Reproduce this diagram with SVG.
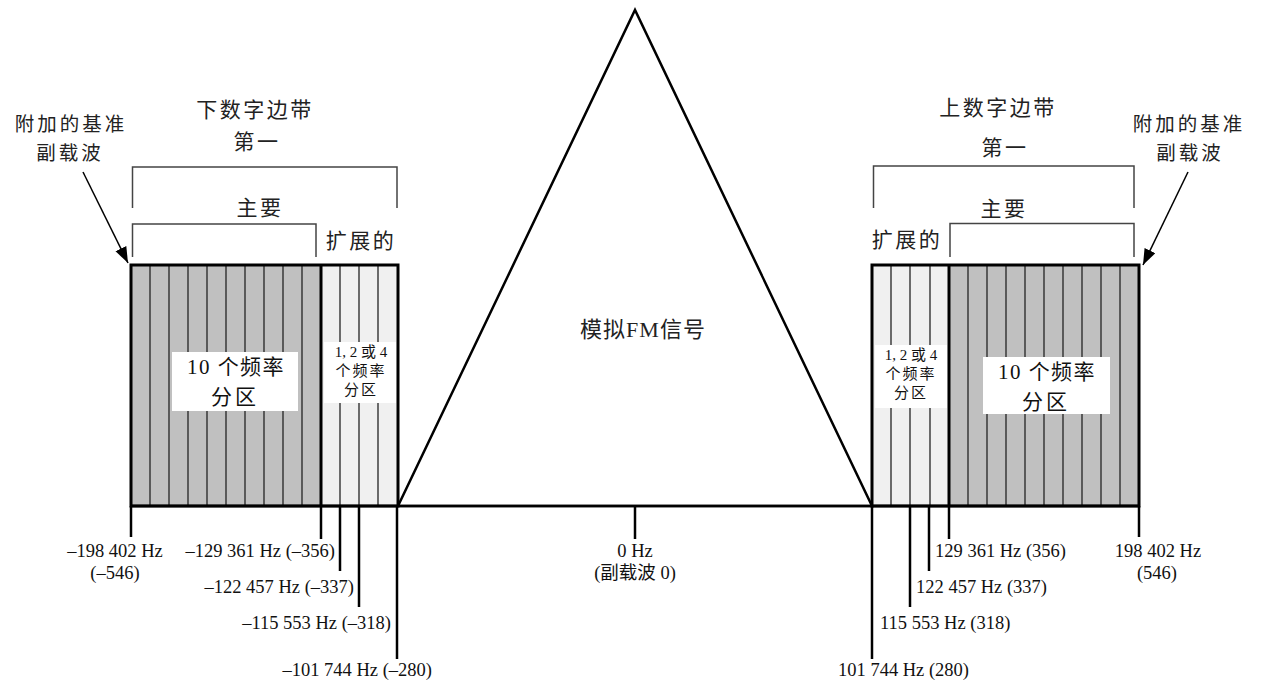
<svg xmlns="http://www.w3.org/2000/svg" width="1263" height="681" viewBox="0 0 1263 681">
<defs>
<style>
.t{font-family:"Liberation Serif","Noto Sans CJK SC",serif;fill:#111;font-size:18.5px}
.c{font-family:"Noto Sans CJK SC",sans-serif;fill:#222;font-size:21px;letter-spacing:2.5px}
.m{text-anchor:middle}
.e{text-anchor:end}
.dark{fill:#c0c0c0}
.light{fill:#f0f0f0}
.stripe{stroke:#222;stroke-width:1.3}
.box{fill:none;stroke:#000;stroke-width:3}
.br{fill:none;stroke:#444;stroke-width:1.5}
.tick{stroke:#000;stroke-width:2.5}
.lab{fill:#fff}
.arrow{stroke:#000;stroke-width:1.5;fill:none}
.ref{font-size:19.5px;letter-spacing:3px}
</style>
<marker id="ah" markerUnits="userSpaceOnUse" markerWidth="20" markerHeight="14" refX="16" refY="6" orient="auto"><path d="M0,0 L16,6 L0,12 Z" fill="#000"/></marker>
</defs>
<rect width="1263" height="681" fill="#fff"/>

<g id="fm-signal">
<polygon points="398,506 635,10 872,506" fill="#fff" stroke="#000" stroke-width="2.5"/>
<text class="c m" x="643" y="337" style="font-size:22px;letter-spacing:1px;font-family:'Liberation Serif','Noto Sans CJK SC',serif">模拟FM信号</text>
</g>

<g id="lower-sideband">
<rect class="dark" x="131" y="265" width="190" height="241"/>
<rect class="light" x="321" y="265" width="77" height="241"/>
<g class="stripe">
<line x1="150" y1="265" x2="150" y2="506"/><line x1="169" y1="265" x2="169" y2="506"/><line x1="188" y1="265" x2="188" y2="506"/><line x1="207" y1="265" x2="207" y2="506"/><line x1="226" y1="265" x2="226" y2="506"/><line x1="245" y1="265" x2="245" y2="506"/><line x1="264" y1="265" x2="264" y2="506"/><line x1="283" y1="265" x2="283" y2="506"/><line x1="302" y1="265" x2="302" y2="506"/>
<line x1="340" y1="265" x2="340" y2="506"/><line x1="359" y1="265" x2="359" y2="506"/><line x1="378" y1="265" x2="378" y2="506"/>
</g>
<rect class="box" x="131" y="265" width="267" height="241"/>
<line class="box" x1="321" y1="265" x2="321" y2="506"/>
<rect class="lab" x="172" y="352" width="126" height="59"/>
<text class="t m" x="236" y="374" style="font-size:21px;letter-spacing:1.5px">10 个频率</text>
<text class="t m" x="235" y="404" style="font-size:21px;letter-spacing:3px">分区</text>
<rect class="lab" x="324" y="342" width="72" height="61"/>
<text class="t m" x="361" y="357" style="font-size:15px">1, 2 或 4</text>
<text class="t m" x="361" y="376" style="font-size:15px;letter-spacing:2px">个频率</text>
<text class="t m" x="361" y="395" style="font-size:15px;letter-spacing:2px">分区</text>
</g>

<g id="upper-sideband">
<rect class="light" x="872" y="265" width="77" height="241"/>
<rect class="dark" x="949" y="265" width="190" height="241"/>
<g class="stripe">
<line x1="891" y1="265" x2="891" y2="506"/><line x1="910" y1="265" x2="910" y2="506"/><line x1="930" y1="265" x2="930" y2="506"/>
<line x1="968" y1="265" x2="968" y2="506"/><line x1="987" y1="265" x2="987" y2="506"/><line x1="1006" y1="265" x2="1006" y2="506"/><line x1="1025" y1="265" x2="1025" y2="506"/><line x1="1044" y1="265" x2="1044" y2="506"/><line x1="1063" y1="265" x2="1063" y2="506"/><line x1="1082" y1="265" x2="1082" y2="506"/><line x1="1101" y1="265" x2="1101" y2="506"/><line x1="1120" y1="265" x2="1120" y2="506"/>
</g>
<rect class="box" x="872" y="265" width="267" height="241"/>
<line class="box" x1="949" y1="265" x2="949" y2="506"/>
<rect class="lab" x="875" y="345" width="72" height="63"/>
<text class="t m" x="911" y="360" style="font-size:15px">1, 2 或 4</text>
<text class="t m" x="911" y="379" style="font-size:15px;letter-spacing:2px">个频率</text>
<text class="t m" x="911" y="398" style="font-size:15px;letter-spacing:2px">分区</text>
<rect class="lab" x="983" y="357" width="127" height="57"/>
<text class="t m" x="1047" y="379" style="font-size:21px;letter-spacing:1.5px">10 个频率</text>
<text class="t m" x="1046" y="409" style="font-size:21px;letter-spacing:3px">分区</text>
</g>

<g id="baseline">
<line x1="131" y1="506" x2="1139" y2="506" stroke="#000" stroke-width="2.5"/>
</g>

<g id="lower-labels">
<text class="c m" x="255" y="117">下数字边带</text>
<text class="c m" x="257" y="149">第一</text>
<path class="br" d="M132.5,208 V167 H397 V208"/>
<text class="c m" x="260" y="215">主要</text>
<path class="br" d="M132.5,257 V224 H316 V257"/>
<text class="c m" x="361" y="248">扩展的</text>
<text class="c m ref" x="71" y="131">附加的基准</text>
<text class="c m ref" x="70" y="160">副载波</text>
</g>

<g id="upper-labels">
<text class="c m" x="998" y="115">上数字边带</text>
<text class="c m" x="1005" y="155">第一</text>
<path class="br" d="M873.5,208 V166 H1134 V208"/>
<text class="c m" x="1004" y="216">主要</text>
<path class="br" d="M950,257 V223.5 H1134 V257"/>
<text class="c m" x="907" y="247">扩展的</text>
<text class="c m ref" x="1189" y="131">附加的基准</text>
<text class="c m ref" x="1190" y="160">副载波</text>
</g>

<g id="connectors">
<line class="arrow" x1="83" y1="172" x2="128" y2="263" marker-end="url(#ah)"/>
<line class="arrow" x1="1188" y1="172" x2="1143" y2="265" marker-end="url(#ah)"/>
<g class="tick">
<line x1="131" y1="506" x2="131" y2="537"/>
<line x1="321" y1="506" x2="321" y2="539"/>
<line x1="340" y1="506" x2="340" y2="571"/>
<line x1="359" y1="506" x2="359" y2="607"/>
<line x1="397" y1="506" x2="397" y2="659"/>
<line x1="635" y1="506" x2="635" y2="539"/>
<line x1="872" y1="506" x2="872" y2="659"/>
<line x1="910" y1="506" x2="910" y2="607"/>
<line x1="929" y1="506" x2="929" y2="571"/>
<line x1="949" y1="506" x2="949" y2="539"/>
<line x1="1139" y1="506" x2="1139" y2="537"/>
</g>
</g>

<g id="freq-labels">
<text class="t m" x="115" y="557">–198 402 Hz</text>
<text class="t m" x="115" y="579">(–546)</text>
<text class="t e" x="335" y="557">–129 361 Hz (–356)</text>
<text class="t e" x="354" y="593">–122 457 Hz (–337)</text>
<text class="t e" x="391" y="629">–115 553 Hz (–318)</text>
<text class="t e" x="432" y="676">–101 744 Hz (–280)</text>
<text class="t m" x="635" y="557">0 Hz</text>
<text class="t m" x="635" y="579">(副载波 0)</text>
<text class="t" x="935" y="557">129 361 Hz (356)</text>
<text class="t" x="916" y="593">122 457 Hz (337)</text>
<text class="t" x="880" y="629">115 553 Hz (318)</text>
<text class="t" x="838" y="676">101 744 Hz (280)</text>
<text class="t m" x="1158" y="557">198 402 Hz</text>
<text class="t m" x="1157" y="579">(546)</text>
</g>
</svg>
